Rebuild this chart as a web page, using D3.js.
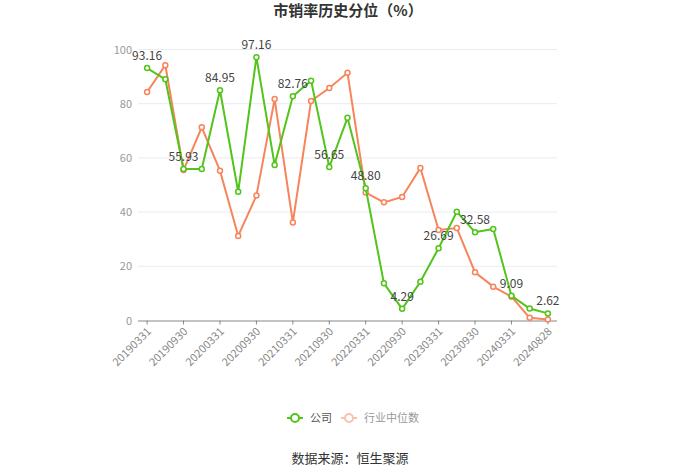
<!DOCTYPE html>
<html>
<head>
<meta charset="utf-8">
<script src="https://cdn.jsdelivr.net/npm/d3@7/dist/d3.min.js"></script>
<style>
  html, body { margin: 0; padding: 0; background: #fff; }
  svg { display: block; font-family: "Noto Sans CJK SC", "Noto Sans", sans-serif; }
</style>
</head>
<body>
<svg id="chart" width="700" height="474"></svg>
<script>
const categories = ["20190331","20190630","20190930","20191231","20200331","20200630","20200930","20201231","20210331","20210630","20210930","20211231","20220331","20220630","20220930","20221231","20230331","20230630","20230930","20231231","20240331","20240630","20240828"];
const companyValues = [93.16, 89.0, 55.93, 55.9, 84.95, 47.5, 97.16, 57.4, 82.76, 88.5, 56.65, 74.8, 48.80, 13.7, 4.29, 14.3, 26.69, 40.1, 32.58, 33.8, 9.09, 4.4, 2.62];
const industryValues = [84.3, 94.2, 55.5, 71.3, 55.3, 31.2, 46.1, 81.7, 36.2, 81.0, 85.8, 91.4, 47.2, 43.6, 45.6, 56.3, 33.4, 34.1, 17.8, 12.5, 8.8, 1.0, 0.4];
const yTicks = [0, 20, 40, 60, 80, 100];
const seriesNames = ["公司", "行业中位数"];
const titleText = "市销率历史分位（%）";
const sourceText = "数据来源：恒生聚源";

const svg = d3.select("#chart");
const green = "#52c41a", orange = "#f7845a";
const FONT = "'Noto Sans CJK SC', 'Noto Sans', sans-serif";

const x = d3.scaleBand().domain(categories).range([138, 557]);
const y = d3.scaleLinear().domain([0, 100]).range([320.5, 49.5]);
const cx = d => x(d) + x.bandwidth() / 2;

// title
svg.append("text").attr("x", 348).attr("y", 16).attr("text-anchor", "middle")
  .attr("font-size", 15).attr("font-weight", "bold").attr("fill", "#333").text(titleText);

// grid
svg.append("g").selectAll("line").data(yTicks.filter(t => t > 0)).join("line")
  .attr("x1", 138).attr("x2", 557).attr("y1", d => y(d)).attr("y2", d => y(d))
  .attr("stroke", "#e8ebf0").attr("stroke-width", 1);

// y axis labels
const yAxis = d3.axisLeft(y).tickValues(yTicks).tickSize(0).tickPadding(6);
const gy = svg.append("g").attr("transform", "translate(138,0)").call(yAxis);
gy.select(".domain").remove();
gy.selectAll("text").attr("fill", "#999").attr("font-size", 11).attr("font-family", FONT);

// x axis
const labelCats = categories.filter((d, i) => i % 2 === 0);
const xAxis = d3.axisBottom(x).tickValues(labelCats).tickSize(4).tickPadding(4);
const gx = svg.append("g").attr("transform", "translate(0,320.5)").call(xAxis);
gx.select(".domain").attr("stroke", "#888").attr("d", "M138,0.5H557");
gx.selectAll(".tick line").attr("stroke", "#888");
gx.selectAll("text").attr("fill", "#888").attr("font-size", 11)
  .attr("font-family", FONT)
  .attr("text-anchor", "end").attr("x", 0).attr("y", 0).attr("dy", "0.35em")
  .attr("transform", "translate(2,9) rotate(-45)");

// lines
function drawSeries(vals, color) {
  const data = categories.map((c, i) => ({c, v: vals[i]}));
  const line = d3.line().x(d => cx(d.c)).y(d => y(d.v));
  svg.append("path").datum(data).attr("d", line).attr("fill", "none")
    .attr("stroke", color).attr("stroke-width", 2);
  svg.append("g").selectAll("circle").data(data).join("circle")
    .attr("cx", d => cx(d.c)).attr("cy", d => y(d.v)).attr("r", 2.5)
    .attr("fill", "#fff").attr("stroke", color).attr("stroke-width", 1.5);
  return data;
}
drawSeries(industryValues, orange);
const cData = drawSeries(companyValues, green);

// labels on company series
svg.append("g").selectAll("text").data(cData.filter((d, i) => i % 2 === 0)).join("text")
  .attr("x", d => cx(d.c)).attr("y", d => y(d.v) - 8)
  .attr("text-anchor", "middle").attr("font-size", 12).attr("fill", "#444")
  .text(d => d.v.toFixed(2));

// legend
const lg = svg.append("g");
lg.append("line").attr("x1", 287).attr("x2", 303).attr("y1", 418).attr("y2", 418).attr("stroke", green).attr("stroke-width", 2);
lg.append("circle").attr("cx", 295).attr("cy", 418).attr("r", 4).attr("fill", "#fff").attr("stroke", green).attr("stroke-width", 2);
lg.append("text").attr("x", 310).attr("y", 422).attr("font-size", 11).attr("fill", "#555").text(seriesNames[0]);
const og = lg.append("g").attr("opacity", 0.5);
og.append("line").attr("x1", 341).attr("x2", 357).attr("y1", 418).attr("y2", 418).attr("stroke", orange).attr("stroke-width", 2);
og.append("circle").attr("cx", 349).attr("cy", 418).attr("r", 4).attr("fill", "#fff").attr("stroke", orange).attr("stroke-width", 2);
lg.append("text").attr("x", 364).attr("y", 422).attr("font-size", 11).attr("fill", "#999").text(seriesNames[1]);

// source
svg.append("text").attr("x", 350).attr("y", 463).attr("text-anchor", "middle")
  .attr("font-size", 13).attr("fill", "#333").text(sourceText);
</script>
</body>
</html>
